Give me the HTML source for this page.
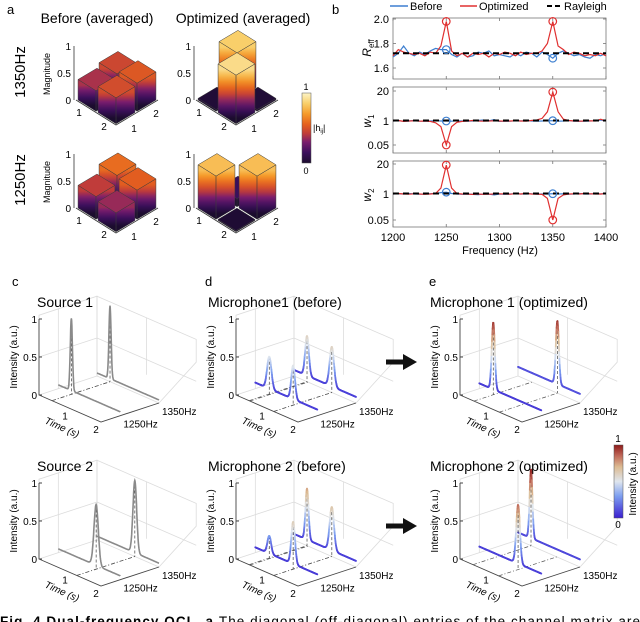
<!DOCTYPE html>
<html><head><meta charset="utf-8">
<style>
body{margin:0;background:#fff;}
svg{display:block;font-family:"Liberation Sans",Arial,sans-serif;}
</style></head>
<body>
<svg id="fig" width="640" height="622" viewBox="0 0 640 622" xmlns="http://www.w3.org/2000/svg">
<defs>
<linearGradient id="cbA" x1="0" y1="1" x2="0" y2="0">
<stop offset="0" stop-color="#1b0c2e"/><stop offset="0.15" stop-color="#3b0f5c"/><stop offset="0.3" stop-color="#7a1d6d"/><stop offset="0.42" stop-color="#c03c3a"/><stop offset="0.55" stop-color="#e5601e"/><stop offset="0.7" stop-color="#f59a2a"/><stop offset="0.85" stop-color="#f9cf6a"/><stop offset="1" stop-color="#fcf4c8"/>
</linearGradient>
<linearGradient id="cbE" x1="0" y1="1" x2="0" y2="0">
<stop offset="0" stop-color="#3a1fd0"/><stop offset="0.3" stop-color="#7d9ff0"/><stop offset="0.5" stop-color="#dfe6ee"/><stop offset="0.7" stop-color="#dcbb92"/><stop offset="0.85" stop-color="#c06a5a"/><stop offset="1" stop-color="#8e1a1a"/>
</linearGradient>
</defs>
<g id="layer"></g>
</svg>
<script>
// ---------- Panel a data ----------
var barCells = [[0,1],[0,0],[1,1],[1,0]]; // back, left, right, front
var h1350Before = [0.46,0.38,0.52,0.48];
var h1350Opt = [0.85,0.03,0.03,0.9];
var h1250Before = [0.58,0.42,0.54,0.35];
var h1250Opt = [0.15,0.8,0.8,0.02];
// ---------- Panel b data ----------
var freqs = [];
for (var q=0;q<41;q++) freqs.push(1200+q*5);
var reffOpt = [1.70,1.75,1.73,1.72,1.71,1.72,1.70,1.73,1.72,1.78,1.98,1.74,1.70,1.72,1.69,1.72,1.71,1.72,1.69,1.72,1.71,1.73,1.72,1.70,1.73,1.71,1.72,1.72,1.74,1.80,1.98,1.78,1.75,1.71,1.73,1.72,1.70,1.71,1.70,1.72,1.70];
var reffBefore = [1.69,1.72,1.78,1.72,1.70,1.73,1.71,1.74,1.76,1.75,1.75,1.71,1.69,1.72,1.69,1.70,1.73,1.72,1.74,1.70,1.71,1.70,1.69,1.72,1.70,1.73,1.72,1.69,1.73,1.71,1.68,1.72,1.74,1.72,1.70,1.71,1.69,1.68,1.71,1.70,1.72];
var w1Opt = [1,1.05,0.95,1,1.02,0.98,1,0.95,0.8,0.5,0.05,0.5,0.85,0.95,1,1.05,1,0.98,1,1.02,1,0.97,1,1.02,1,0.98,1.05,1.1,1.3,2.5,18,2.5,1.2,1.05,1,0.98,1,1.02,1,1.2,1];
var w1Before = [1,1.02,0.98,1,1.05,1,0.97,1,1.03,1,1,0.98,1.02,1,0.97,1,1.05,1.1,1.02,1.15,0.95,1,0.98,1.02,1,1.05,1,0.97,1,1.02,1.03,0.98,1,1.05,0.97,1,0.98,1,1.02,1.1,1];
var w2Opt = [1,1.05,1,0.98,1.02,1,0.97,1,1.05,1.8,18,1.8,1.05,1,0.98,0.95,1,0.97,0.98,1,1.02,1,0.98,1.03,1,1.05,1,0.98,0.95,0.6,0.05,0.6,0.9,1,1.02,1,1.05,1.02,1,1,1.03];
var w2Before = [1,1.02,1,1.05,1,0.98,1,1.03,1.05,1.15,1.2,1.05,1,0.97,1,0.95,0.92,1,0.98,0.9,1,0.97,1,1.02,1,1,1.02,0.98,1,1,1.03,1,1.02,0.98,1,1.05,1,1,1.02,1,1.05];
var rayleighLevels = [1.72,1.05,1.05];
var xTickLabels = [1200,1250,1300,1350,1400];
// ---------- Panels c-e data (peak time, height, width per ridge) ----------
var ridgeFreqLabels = ["1250Hz","1350Hz"];
var s1Peaks = [[[0.42,1.0,0.035]],[[0.42,1.0,0.035]]];
var s2Peaks = [[[1.22,0.85,0.07]],[[1.22,1.0,0.06]]];
var m1bPeaks = [[[0.45,0.5,0.07],[1.22,0.52,0.06]],[[0.42,0.6,0.06],[1.22,0.6,0.07]]];
var m2bPeaks = [[[0.45,0.3,0.06],[1.22,0.62,0.06]],[[0.42,0.75,0.05],[1.22,0.65,0.07]]];
var m1oPeaks = [[[0.45,0.95,0.05]],[[1.27,0.95,0.05]]];
var m2oPeaks = [[[1.25,0.85,0.06]],[[0.42,1.0,0.045]]];
var s1Base = [0.05,0.04], s2Base = [0.05,0.05], m1bBase = [0.08,0.08], m2bBase = [0.07,0.08], m1oBase = [0.07,0.12], m2oBase = [0.08,0.1];

var NS='http://www.w3.org/2000/svg';
var root=document.getElementById('layer');
function mk(tag,attrs,parent,text){var e=document.createElementNS(NS,tag);for(var k in attrs)e.setAttribute(k,attrs[k]);if(text!==undefined)e.textContent=text;(parent||root).appendChild(e);return e;}
function lerpC(a,b,t){var pa=[parseInt(a.substr(1,2),16),parseInt(a.substr(3,2),16),parseInt(a.substr(5,2),16)];var pb=[parseInt(b.substr(1,2),16),parseInt(b.substr(3,2),16),parseInt(b.substr(5,2),16)];return 'rgb('+Math.round(pa[0]+(pb[0]-pa[0])*t)+','+Math.round(pa[1]+(pb[1]-pa[1])*t)+','+Math.round(pa[2]+(pb[2]-pa[2])*t)+')';}
function cmap(stops,v){v=Math.max(0,Math.min(1,v));for(var i=1;i<stops.length;i++){if(v<=stops[i][0]){var t=(v-stops[i-1][0])/(stops[i][0]-stops[i-1][0]);return lerpC(stops[i-1][1],stops[i][1],t);}}return stops[stops.length-1][1];}
var stopsA=[[0,'#1b0c2e'],[0.15,'#3b0f5c'],[0.3,'#7a1d6d'],[0.42,'#c03c3a'],[0.55,'#e5601e'],[0.7,'#f59a2a'],[0.85,'#f9cf6a'],[1,'#fcf4c8']];
var stopsE=[[0,'#3a1fd0'],[0.3,'#7d9ff0'],[0.5,'#dfe6ee'],[0.7,'#dcbb92'],[0.85,'#c06a5a'],[1,'#8e1a1a']];
var defs=document.querySelector('defs');
var gid=0;

// ---------------- Panel a ----------------
var pa=mk('g',{});


var t=mk('text',{x:7,y:14,'font-size':13},pa,'a');


t=mk('text',{x:97,y:23,'font-size':14,'text-anchor':'middle'},pa,'Before (averaged)');


t=mk('text',{x:243,y:23,'font-size':14,'text-anchor':'middle'},pa,'Optimized (averaged)');


t=mk('text',{x:0,y:0,'font-size':15,'text-anchor':'middle',transform:'translate(25,72) rotate(-90)'},pa,'1350Hz');


t=mk('text',{x:0,y:0,'font-size':15,'text-anchor':'middle',transform:'translate(25,180) rotate(-90)'},pa,'1250Hz');



var U=[20,12.5],V=[21,-12.5],ZA=54;
function barPlot(Lx,Ly,heights,name,showMag){
  var g=mk('g',{},pa);
  
  
  function P(i,j,z){return [Lx+i*U[0]+j*V[0], Ly+i*U[1]+j*V[1]-z*ZA];}
  var ax=mk('polyline',{points:[P(0,0,0),P(2,0,0),P(2,2,0)].map(function(p){return p.join(',')}).join(' '),fill:'none',stroke:'#333','stroke-width':0.8},g);
  
  
  var za=mk('line',{x1:Lx-2,y1:Ly,x2:Lx-2,y2:Ly-ZA,stroke:'#333','stroke-width':0.8},g);
  
  
  var zt=[[1,'1'],[0.5,'0.5'],[0,'0']];
  zt.forEach(function(z){var e=mk('text',{x:Lx-5,y:Ly-z[0]*ZA+4,'font-size':10,'text-anchor':'end'},g,z[1]);
    
    });
  var fl=[[3,12,'1'],[28,26,'2'],[58,28,'1'],[80,13,'2']];
  fl.forEach(function(f){var e=mk('text',{x:Lx+f[0],y:Ly+f[1]+4,'font-size':10,'text-anchor':'middle'},g,f[2]);
    
    });
  if(showMag){var m=mk('text',{x:0,y:0,'font-size':9,'text-anchor':'middle',transform:'translate('+(Lx-26)+','+(Ly-26)+') rotate(-90)'},g,'Magnitude');
    
    }
  var mg=0.05;
  barCells.forEach(function(c,k){
    var h=heights[k];
    var i0=c[0]+mg,i1=c[0]+1-mg,j0=c[1]+mg,j1=c[1]+1-mg;
    var bar=mk('g',{},g);
    
    
    function grad(yTop,yBot){var id='g'+(gid++);var lg=mk('linearGradient',{id:id,gradientUnits:'userSpaceOnUse',x1:0,x2:0,y1:yTop,y2:yBot},defs);
      for(var s=0;s<=8;s++){mk('stop',{offset:s/8,'stop-color':cmap(stopsA,h*(1-s/8))},lg);}return 'url(#'+id+')';}
    var a=P(i0,j0,h),b=P(i1,j0,h),cc=P(i1,j0,0),d=P(i0,j0,0);
    mk('polygon',{points:[a,b,cc,d].map(function(p){return p.join(',')}).join(' '),fill:grad((a[1]+b[1])/2,(cc[1]+d[1])/2),stroke:'#3a3a3a','stroke-width':0.5},bar);
    a=P(i1,j0,h);b=P(i1,j1,h);cc=P(i1,j1,0);d=P(i1,j0,0);
    mk('polygon',{points:[a,b,cc,d].map(function(p){return p.join(',')}).join(' '),fill:grad((a[1]+b[1])/2,(cc[1]+d[1])/2),stroke:'#3a3a3a','stroke-width':0.5},bar);
    var top=[P(i0,j0,h),P(i1,j0,h),P(i1,j1,h),P(i0,j1,h)];
    mk('polygon',{points:top.map(function(p){return p.join(',')}).join(' '),fill:cmap(stopsA,h),stroke:'#3a3a3a','stroke-width':0.5},bar);
  });
}
barPlot(76,100,h1350Before,'bars-1350-before',true);
barPlot(196,100,h1350Opt,'bars-1350-optimized',false);
barPlot(76,208,h1250Before,'bars-1250-before',true);
barPlot(196,208,h1250Opt,'bars-1250-optimized',false);
var cba=mk('rect',{x:302,y:93,width:9,height:70,fill:'url(#cbA)',stroke:'#555','stroke-width':0.5},pa);


t=mk('text',{x:306,y:90,'font-size':9,'text-anchor':'middle'},pa,'1');
t=mk('text',{x:306,y:174,'font-size':9,'text-anchor':'middle'},pa,'0');
t=mk('text',{x:313,y:131,'font-size':9},pa);
mk('tspan',{},t,'|h');mk('tspan',{'font-size':6,dy:2},t,'ij');mk('tspan',{dy:-2},t,'|');

// ---------------- Panel b ----------------
var pb=mk('g',{});


t=mk('text',{x:332,y:14,'font-size':13},pb,'b');
function xS(f){return 393+(f-1200)/200*213;}
function yR(v){return 68-(v-1.6)*122.5;}
function yLog(base,top,bot){return function(v){var l=Math.log10(v);return l>=0? base-l/Math.log10(20)*(base-top) : base+l/Math.log10(0.05)*(bot-base);};}
var yW1=yLog(121,91,145), yW2=yLog(194,164,220);
var subs=[{y0:18,y1:79,ys:yR,b:reffBefore,o:reffOpt,r:rayleighLevels[0],ticks:[[2.0,'2.0'],[1.8,'1.8'],[1.6,'1.6']],lab:'R',sub:'eff',ly:48,name:'reff-subplot'},
 {y0:87,y1:153,ys:yW1,b:w1Before,o:w1Opt,r:rayleighLevels[1],ticks:[[20,'20'],[1,'1'],[0.05,'0.05']],lab:'w',sub:'1',ly:121,name:'w1-subplot'},
 {y0:161,y1:227,ys:yW2,b:w2Before,o:w2Opt,r:rayleighLevels[2],ticks:[[20,'20'],[1,'1'],[0.05,'0.05']],lab:'w',sub:'2',ly:195,name:'w2-subplot'}];
subs.forEach(function(s,si){
  var g=mk('g',{},pb);
  
  
  var fr=mk('rect',{x:393,y:s.y0,width:213,height:s.y1-s.y0,fill:'none',stroke:'#777','stroke-width':0.8},g);
  
  
  s.ticks.forEach(function(tk){var y=s.ys(tk[0]);mk('line',{x1:393,x2:396,y1:y,y2:y,stroke:'#777','stroke-width':0.8},g);mk('line',{x1:603,x2:606,y1:y,y2:y,stroke:'#777','stroke-width':0.8},g);
    var e=mk('text',{x:389,y:y+4,'font-size':11,'text-anchor':'end'},g,tk[1]);
    
    });
  xTickLabels.forEach(function(v){var x=xS(v);mk('line',{x1:x,x2:x,y1:s.y1,y2:s.y1-3,stroke:'#777','stroke-width':0.8},g);mk('line',{x1:x,x2:x,y1:s.y0,y2:s.y0+3,stroke:'#777','stroke-width':0.8},g);});
  var lt=mk('text',{x:0,y:0,'font-size':12,'font-style':'italic','text-anchor':'middle',transform:'translate(371,'+s.ly+') rotate(-90)'},g);
  
  
  mk('tspan',{},lt,s.lab);mk('tspan',{'font-size':8,dy:3,'font-style':'normal'},lt,s.sub);
  var pts=function(arr){return arr.map(function(v,i){return xS(freqs[i]).toFixed(1)+','+s.ys(v).toFixed(1);}).join(' ');};
  var bl=mk('polyline',{points:pts(s.b),fill:'none',stroke:'#3d7fd0','stroke-width':1.2},g);
  
  
  var rl=mk('polyline',{points:pts(s.o),fill:'none',stroke:'#e03030','stroke-width':1.2},g);
  
  
  var ry=mk('line',{x1:393,x2:606,y1:s.ys(s.r),y2:s.ys(s.r),stroke:'#000','stroke-width':2,'stroke-dasharray':'6,4'},g);
  
  
  [10,30].forEach(function(i){
    var c1=mk('circle',{cx:xS(freqs[i]),cy:s.ys(s.b[i]),r:3.8,fill:'none',stroke:'#3d7fd0','stroke-width':1.2},g);
    
    
    var ov=s.o[i]; if(si>0 && Math.abs(Math.log10(ov))<0.3) return;
    var c2=mk('circle',{cx:xS(freqs[i]),cy:s.ys(ov),r:3.8,fill:'none',stroke:'#e03030','stroke-width':1.2},g);
    
    
  });
});
xTickLabels.forEach(function(v){var e=mk('text',{x:xS(v),y:241,'font-size':11,'text-anchor':'middle'},pb,String(v));
  
  });
t=mk('text',{x:500,y:254,'font-size':11,'text-anchor':'middle'},pb,'Frequency (Hz)');
var lg=mk('g',{},pb);
var le=mk('g',{},lg);
mk('line',{x1:390,x2:408,y1:6,y2:6,stroke:'#3d7fd0','stroke-width':1.5},le);mk('text',{x:410,y:10,'font-size':11},le,'Before');
le=mk('g',{},lg);
mk('line',{x1:460,x2:477,y1:6,y2:6,stroke:'#e03030','stroke-width':1.5},le);mk('text',{x:479,y:10,'font-size':11},le,'Optimized');
le=mk('g',{},lg);
mk('line',{x1:547,x2:562,y1:6,y2:6,stroke:'#000','stroke-width':2,'stroke-dasharray':'5,3'},le);mk('text',{x:564,y:10,'font-size':11},le,'Rayleigh');

// ---------------- Panels c-e ----------------
var T3=[31,13.5],F3=[58,-19],Z3=76;
var ridgeF=[1/3,1];
function plot3d(ox,oy,title,tx,peaks,bases,colored,name){
  var g=mk('g',{});
  
  
  function P(tt,f,z){return [ox+tt*T3[0]+f*F3[0], oy+tt*T3[1]+f*F3[1]-z*Z3];}
  function pp(a){return a.map(function(p){return p[0].toFixed(1)+','+p[1].toFixed(1)}).join(' ');}
  var grid='#dcdcdc';
  mk('polygon',{points:pp([P(0,0,0),P(0,1,0),P(0,1,1.05),P(0,0,1.05)]),fill:'none',stroke:grid,'stroke-width':0.8},g);
  mk('line',{x1:P(0,0,0.5)[0],y1:P(0,0,0.5)[1],x2:P(0,1,0.5)[0],y2:P(0,1,0.5)[1],stroke:grid,'stroke-width':0.8},g);
  mk('line',{x1:P(0,1/3,0)[0],y1:P(0,1/3,0)[1],x2:P(0,1/3,1.05)[0],y2:P(0,1/3,1.05)[1],stroke:grid,'stroke-width':0.8},g);
  mk('polygon',{points:pp([P(0,1,0),P(2,1,0),P(3.2,1,0.75),P(3.2,1,1.05),P(0,1,1.05)]),fill:'none',stroke:grid,'stroke-width':0.8},g);
  mk('line',{x1:P(0,1,0.5)[0],y1:P(0,1,0.5)[1],x2:P(3.2,1,0.5)[0],y2:P(3.2,1,0.5)[1],stroke:grid,'stroke-width':0.8},g);
  mk('line',{x1:P(1.6,1,0.3)[0],y1:P(1.6,1,0.3)[1],x2:P(1.6,1,1.05)[0],y2:P(1.6,1,1.05)[1],stroke:grid,'stroke-width':0.8},g);
  var ax=mk('polyline',{points:pp([P(0,0,1),P(0,0,0),P(2,0,0),P(2,1,0)]),fill:'none',stroke:'#444','stroke-width':0.9},g);
  
  
  [[1,'1'],[0.5,'0.5'],[0,'0']].forEach(function(z){var p=P(0,0,z[0]);mk('line',{x1:p[0],x2:p[0]+3,y1:p[1],y2:p[1],stroke:'#444'},g);
    var e=mk('text',{x:p[0]-2,y:p[1]+4,'font-size':10,'text-anchor':'end'},g,z[1]);
    
    });
  [1,2].forEach(function(tt){var p=P(tt,0,0);var e=mk('text',{x:p[0]-5,y:p[1]+11,'font-size':10,'text-anchor':'middle'},g,String(tt));
    
    });
  ridgeF.forEach(function(f,k){var p=P(2,f,0);var e=mk('text',{x:p[0]+3,y:p[1]+12,'font-size':10},g,ridgeFreqLabels[k]);
    
    });
  var tl=mk('text',{x:0,y:0,'font-size':10,'font-style':'italic',transform:'translate('+(ox+5)+','+(oy+28)+') rotate(24)'},g,'Time (s)');
  
  
  var il=mk('text',{x:0,y:0,'font-size':10,'text-anchor':'middle',transform:'translate('+(ox-22)+','+(oy-38)+') rotate(-90)'},g,'Intensity (a.u.)');
  
  
  var ti=mk('text',{x:tx,y:oy-88,'font-size':14},g,title);
  
  
  [1,0].forEach(function(k){
    var f=ridgeF[k];
    var cg=mk('g',{},g);
    
    
    peaks[k].forEach(function(pk){
      var b=P(pk[0],0,0),e=P(pk[0],1,0);
      mk('line',{x1:b[0],y1:b[1],x2:e[0],y2:e[1],stroke:'#555','stroke-width':0.7,'stroke-dasharray':'4,2,1,2'},cg);
      var tp=P(pk[0],f,pk[1]),bt=P(pk[0],f,0);
      mk('line',{x1:tp[0],y1:tp[1],x2:bt[0],y2:bt[1],stroke:'#444','stroke-width':0.7,'stroke-dasharray':'3,2'},cg);
    });
    var N=220,vals=[],pts=[];
    for(var i=0;i<=N;i++){var tt=2*i/N;var v=bases[k];peaks[k].forEach(function(pk){v+=(pk[1]-bases[k])*Math.exp(-Math.pow(tt-pk[0],2)/(2*pk[2]*pk[2]));});vals.push(v);pts.push(P(tt,f,v));}
    if(!colored){
      var pl=mk('polyline',{points:pp(pts),fill:'none',stroke:'#8a8a8a','stroke-width':1.6},cg);
      
      
    } else {
      for(var i=0;i<N;i++){
        mk('line',{x1:pts[i][0].toFixed(1),y1:pts[i][1].toFixed(1),x2:pts[i+1][0].toFixed(1),y2:pts[i+1][1].toFixed(1),stroke:cmap(stopsE,(vals[i]+vals[i+1])/2),'stroke-width':1.8,'stroke-linecap':'round'},cg);
      }
    }
  });
  return g;
}
var dy=164;
var L=mk('text',{x:12,y:286,'font-size':13},null,'c');
L=mk('text',{x:205,y:286,'font-size':13},null,'d');
L=mk('text',{x:429,y:286,'font-size':13},null,'e');
plot3d(39,395,'Source 1',37,s1Peaks,s1Base,false,'source-1-plot');
plot3d(39,395+dy,'Source 2',37,s2Peaks,s2Base,false,'source-2-plot');
plot3d(236,395,'Microphone1 (before)',208,m1bPeaks,m1bBase,true,'microphone-1-before-plot');
plot3d(236,395+dy,'Microphone 2 (before)',208,m2bPeaks,m2bBase,true,'microphone-2-before-plot');
plot3d(460,395,'Microphone 1 (optimized)',430,m1oPeaks,m1oBase,true,'microphone-1-optimized-plot');
plot3d(460,395+dy,'Microphone 2 (optimized)',430,m2oPeaks,m2oBase,true,'microphone-2-optimized-plot');
[362,362+dy].forEach(function(y,i){
  var a=mk('polygon',{points:'386,'+(y-2.5)+' 403,'+(y-2.5)+' 403,'+(y-8)+' 417,'+y+' 403,'+(y+8)+' 403,'+(y+2.5)+' 386,'+(y+2.5),fill:'#111'});
  
  
});
var cbe=mk('rect',{x:614,y:445,width:9,height:73,fill:'url(#cbE)',stroke:'#555','stroke-width':0.5});


t=mk('text',{x:618,y:442,'font-size':10,'text-anchor':'middle'},null,'1');
t=mk('text',{x:618,y:528,'font-size':10,'text-anchor':'middle'},null,'0');
t=mk('text',{x:0,y:0,'font-size':10,'text-anchor':'middle',transform:'translate(636,484) rotate(-90)'},null,'Intensity (a.u.)');
var cap=mk('text',{x:0,y:626,'font-size':13.5,textLength:640,lengthAdjust:'spacing'});


mk('tspan',{'font-weight':'bold'},cap,'Fig. 4  Dual-frequency OCL. a ');
mk('tspan',{},cap,'The diagonal (off-diagonal) entries of the channel matrix are');
</script>
</body></html>
